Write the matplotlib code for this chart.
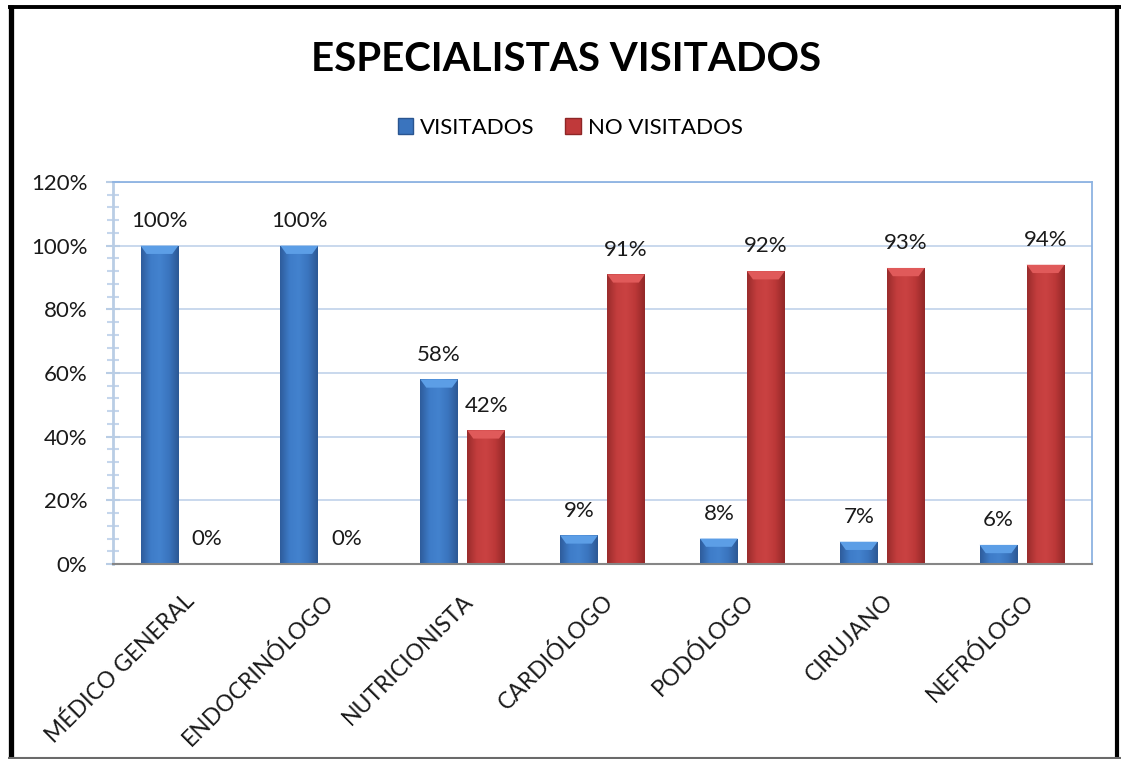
import matplotlib
matplotlib.use("Agg")
import matplotlib.pyplot as plt
import numpy as np
from matplotlib.patches import Patch, Polygon
from matplotlib.lines import Line2D
from matplotlib.colors import LinearSegmentedColormap
from matplotlib.ticker import MultipleLocator, FuncFormatter

plt.rcParams['font.family'] = ['Lato', 'DejaVu Sans']

categories = ["MÉDICO GENERAL", "ENDOCRINÓLOGO", "NUTRICIONISTA", "CARDIÓLOGO",
              "PODÓLOGO", "CIRUJANO", "NEFRÓLOGO"]
visitados = [1.00, 1.00, 0.58, 0.09, 0.08, 0.07, 0.06]
no_visitados = [0.00, 0.00, 0.42, 0.91, 0.92, 0.93, 0.94]
series_names = ["VISITADOS", "NO VISITADOS"]
title = "ESPECIALISTAS VISITADOS"

W, H = 1123, 759
fig = plt.figure(figsize=(W / 100, H / 100), dpi=100)
fig.patch.set_facecolor('white')
ax = fig.add_axes([113 / W, 1 - 564 / H, (1092 - 113) / W, (564 - 182) / H])

x = np.arange(len(categories))
bw = 0.27
off = 0.168

blue_base = '#3A74BE'
red_base = '#C0393A'
bars_b = ax.bar(x - off, visitados, bw, color=blue_base, zorder=3, linewidth=0)
bars_r = ax.bar(x + off, no_visitados, bw, color=red_base, zorder=3, linewidth=0)

cmap_b = LinearSegmentedColormap.from_list('b', ['#2E5C9C', '#3E7CC8', '#4382CE', '#3A74BE', '#2C5894'])
cmap_r = LinearSegmentedColormap.from_list('r', ['#9A2C2C', '#C33D3D', '#CA4242', '#BC3838', '#922828'])
grad = np.linspace(0, 1, 64).reshape(1, -1)

def decorate(bars, cmap, top_col):
    for p in bars:
        h = p.get_height()
        if h <= 0:
            continue
        x0, w = p.get_x(), p.get_width()
        im = ax.imshow(grad, cmap=cmap, aspect='auto', extent=(x0, x0 + w, 0, h),
                       zorder=3.1, interpolation='bicubic')
        im.set_clip_path(p)
        bev = 0.026
        inset = w * 0.16
        poly = Polygon([(x0, h), (x0 + w, h), (x0 + w - inset, h - bev), (x0 + inset, h - bev)],
                       closed=True, facecolor=top_col, edgecolor='none', zorder=3.2)
        ax.add_patch(poly)

decorate(bars_b, cmap_b, '#5C9EE6')
decorate(bars_r, cmap_r, '#E05A5A')

# data labels
for p, v in zip(bars_b, visitados):
    ax.annotate(f"{round(v * 100)}%", (p.get_x() + p.get_width() / 2, v), xytext=(0, 13.5),
                textcoords='offset points', ha='center', va='baseline', fontsize=16, color='#1a1a1a', zorder=5)
for p, v in zip(bars_r, no_visitados):
    ax.annotate(f"{round(v * 100)}%", (p.get_x() + p.get_width() / 2, v), xytext=(0, 13.5),
                textcoords='offset points', ha='center', va='baseline', fontsize=16, color='#1a1a1a', zorder=5)

ax.set_xlim(-0.5, len(categories) - 0.5)
ax.set_ylim(0, 1.2)
ax.yaxis.set_major_locator(MultipleLocator(0.2))
ax.yaxis.set_minor_locator(MultipleLocator(0.04))
ax.yaxis.set_major_formatter(FuncFormatter(lambda v, _: f"{round(v * 100)}%"))
ax.grid(axis='y', which='major', color='#C5D6EC', linewidth=1.3, zorder=0)
ax.set_axisbelow(True)

for s in ['top', 'right']:
    ax.spines[s].set_color('#8DB3E2')
    ax.spines[s].set_linewidth(1.3)
ax.spines['left'].set_color('#B9CDE5')
ax.spines['left'].set_linewidth(2)
ax.spines['bottom'].set_color('#868686')
ax.spines['bottom'].set_linewidth(1.5)
ax.spines['bottom'].set_zorder(4)

ax.tick_params(axis='y', which='major', direction='inout', length=10, width=1.5, color='#B9CDE5',
               labelsize=16, pad=13.5, labelcolor='#1a1a1a')
ax.tick_params(axis='y', which='minor', direction='inout', length=9, width=1.5, color='#C5D6EC')
ax.set_xticks(x)
ax.set_xticklabels(categories, rotation=45, ha='right', rotation_mode='anchor', fontsize=16.5,
                   color='#1a1a1a')
ax.tick_params(axis='x', length=0, pad=19)

# title & legend
fig.text(566 / W, 1 - 71 / H, title, ha='center', va='baseline', fontsize=29, fontweight='bold',
         color='black')
handles = [Patch(facecolor=blue_base, edgecolor='#2A5590'), Patch(facecolor=red_base, edgecolor='#8E2626')]
fig.legend(handles, series_names, loc='center', bbox_to_anchor=(570 / W, 1 - 128 / H), ncol=2,
           frameon=False, fontsize=16, handlelength=0.7, handleheight=0.7, handletextpad=0.3,
           columnspacing=1.4)

# outer border
def fline(xs, ys, **kw):
    fig.add_artist(Line2D([a / W for a in xs], [1 - b / H for b in ys], transform=fig.transFigure, **kw))

fline([10.5, 10.5], [5, 759], color='black', linewidth=3.8, solid_capstyle='butt')
fline([8, 1121], [6.5, 6.5], color='black', linewidth=2.8, solid_capstyle='butt')
fline([1117, 1117], [5, 759], color='black', linewidth=3.0, solid_capstyle='butt')
fline([8, 1121], [757.5, 757.5], color='#6a6a6a', linewidth=1.5, solid_capstyle='butt')

fig.savefig('out.png', dpi=100, facecolor='white')
